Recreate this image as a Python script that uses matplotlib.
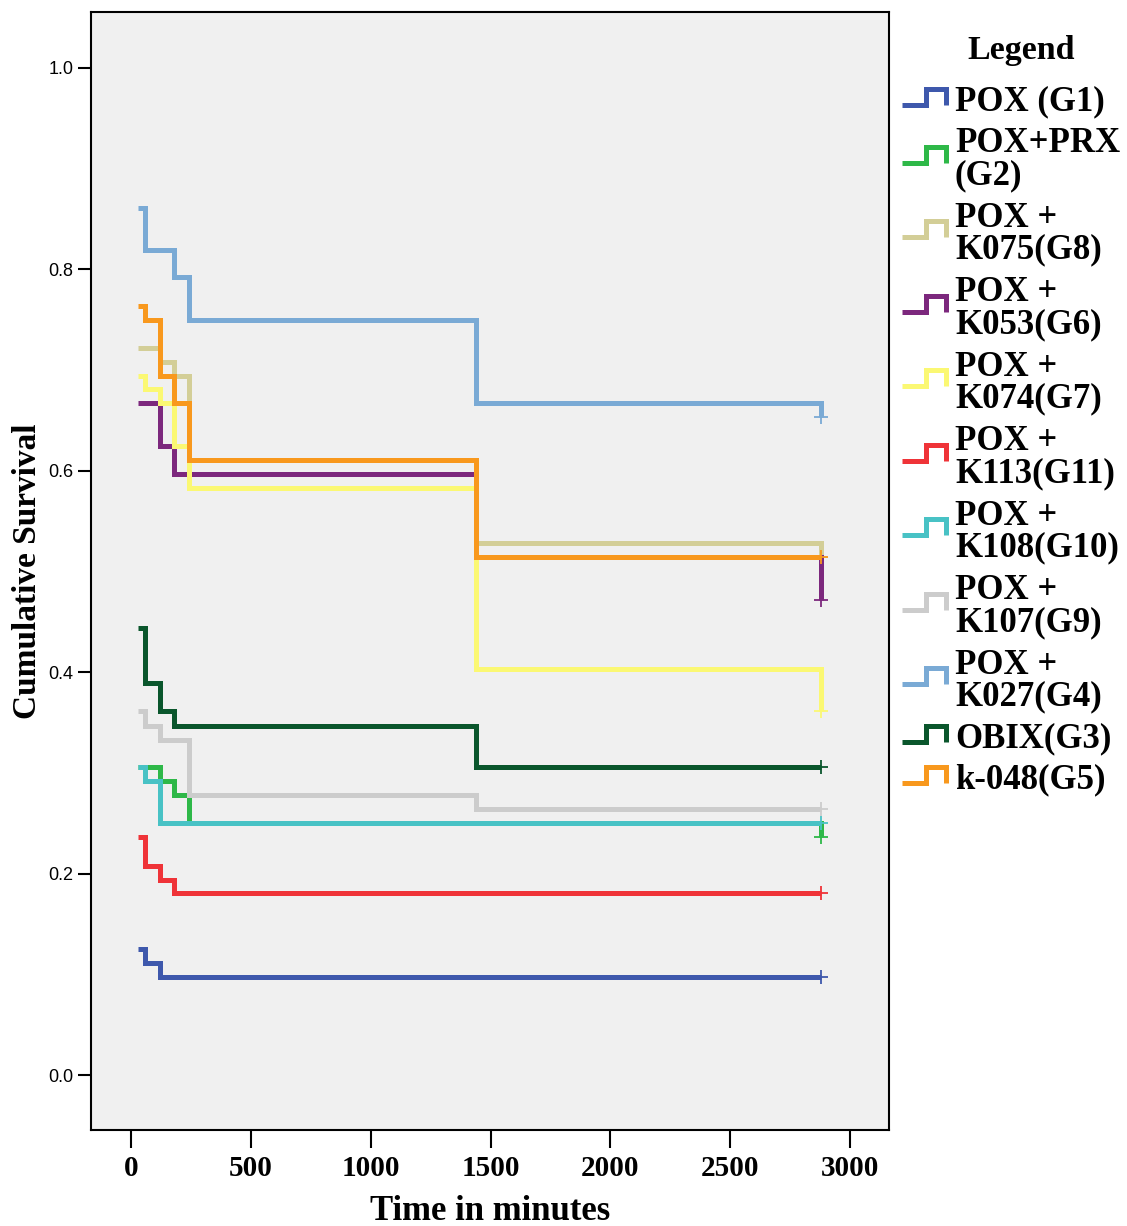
import matplotlib
matplotlib.use("Agg")
import matplotlib.pyplot as plt
from matplotlib.lines import Line2D

W, H = 1127, 1226

# event times (minutes) shared by all groups
times = [30, 60, 120, 180, 240, 1440, 2880]

labels = ["POX (G1)", "POX+PRX\n(G2)", "POX +\nK075(G8)", "POX +\nK053(G6)",
          "POX +\nK074(G7)", "POX +\nK113(G11)", "POX +\nK108(G10)",
          "POX +\nK107(G9)", "POX +\nK027(G4)", "OBIX(G3)", "k-048(G5)"]
colors = ["#3E58AC", "#2EB848", "#D3CE97", "#7C287D", "#FBF873", "#EF3338",
          "#48C2C5", "#CCCCCC", "#7AAAD5", "#0A562C", "#F8981D"]

g1 = [0.125, 0.111, 0.097, 0.097, 0.097, 0.097, 0.097]
g2 = [0.306, 0.306, 0.292, 0.278, 0.250, 0.250, 0.236]
g8 = [0.722, 0.722, 0.708, 0.694, 0.611, 0.528, 0.514]
g6 = [0.667, 0.667, 0.625, 0.597, 0.597, 0.514, 0.472]
g7 = [0.694, 0.681, 0.667, 0.625, 0.583, 0.403, 0.361]
g11 = [0.236, 0.208, 0.194, 0.181, 0.181, 0.181, 0.181]
g10 = [0.306, 0.292, 0.250, 0.250, 0.250, 0.250, 0.250]
g9 = [0.361, 0.347, 0.333, 0.333, 0.278, 0.264, 0.264]
g4 = [0.861, 0.819, 0.819, 0.792, 0.750, 0.667, 0.653]
g3 = [0.444, 0.389, 0.361, 0.347, 0.347, 0.306, 0.306]
g5 = [0.764, 0.750, 0.694, 0.667, 0.611, 0.514, 0.514]
series = [g1, g2, g8, g6, g7, g11, g10, g9, g4, g3, g5]

xticks = [0, 500, 1000, 1500, 2000, 2500, 3000]
yticks = [0.0, 0.2, 0.4, 0.6, 0.8, 1.0]

serif = "Liberation Serif"
sans = "Liberation Sans"

fig = plt.figure(figsize=(W / 100, H / 100), dpi=100)
ax = fig.add_axes([91 / W, 1 - 1130 / H, (889 - 91) / W, (1130 - 12) / H])
ax.set_facecolor("#F0F0F0")

for vals, c in zip(series, colors):
    ax.step(times, vals, where="post", color=c, lw=3.6,
            solid_capstyle="butt", solid_joinstyle="miter")
    ax.plot(times[-1], vals[-1], marker="+", color=c, ms=10, mew=1.3)

ax.set_xlim(-167, 3162)
ax.set_ylim(-0.0546, 1.0556)
ax.set_xticks(xticks)
ax.set_xticklabels([str(v) for v in xticks], fontfamily=serif,
                   fontweight="bold", fontsize=21)
ax.set_yticks(yticks)
ax.set_yticklabels([f"{v:.1f}" for v in yticks], fontfamily=sans, fontsize=13)
ax.tick_params(axis="x", length=13, width=1.5, pad=5)
ax.tick_params(axis="y", length=9.5, width=1.5, pad=3)
for s in ax.spines.values():
    s.set_linewidth(1.5)

ax.set_xlabel("Time in minutes", fontfamily=serif, fontweight="bold",
              fontsize=25, labelpad=9)
ax.set_ylabel("Cumulative Survival", fontfamily=serif, fontweight="bold",
              fontsize=24, labelpad=4)

# legend drawn by hand: step-shaped keys
fig.text(1021 / W, 1 - 51 / H, "Legend", fontfamily=serif, fontweight="bold",
         fontsize=24.5, ha="center", va="center")
y = 99
prev = None
for lab, c in zip(labels, colors):
    n = lab.count("\n") + 1
    if prev is not None:
        y += (41 + 33.5 * (prev - 1)) / 2 + (41 + 33.5 * (n - 1)) / 2
    prev = n
    fig.text(955 / W, 1 - (y + 3) / H, lab, fontfamily=serif, fontweight="bold",
             fontsize=25, ha="left", va="center", linespacing=0.95)
    yc = y - 2
    xs = [902, 926, 926, 946, 946]
    ys = [yc + 8, yc + 8, yc - 8, yc - 8, yc + 8]
    fig.add_artist(Line2D([v / W for v in xs], [1 - v / H for v in ys],
                          transform=fig.transFigure, color=c, lw=3.6,
                          solid_capstyle="butt", solid_joinstyle="miter"))

fig.savefig("out.png", dpi=100)
